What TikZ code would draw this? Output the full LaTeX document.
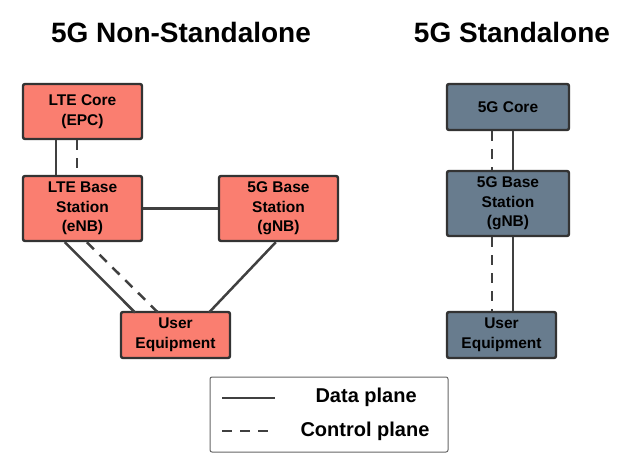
\documentclass[tikz,border=0pt]{standalone}
\usepackage{fontspec}
\setmainfont{Liberation Sans}
\begin{document}
\begin{tikzpicture}[x=1pt,y=-1pt,
 box/.style={draw=black!80,line width=2.4pt,rounded corners=2pt,align=center,font=\bfseries\fontsize{15.5}{19.5}\selectfont,inner sep=0pt},
 grey/.style={box,fill={rgb,255:red,104;green,124;blue,142}},
 ln/.style={draw=black!75,line width=2.5pt},
 dsh/.style={ln,dash pattern=on 10pt off 8pt}]
\useasboundingbox (0,0) rectangle (621,462);
\definecolor{salmon}{HTML}{FA7E70}
\node[font=\bfseries\fontsize{28}{32}\selectfont] (t1) at (181,32) {5G Non-Standalone};
\node[font=\bfseries\fontsize{28}{32}\selectfont] (t2) at (512,32) {5G Standalone};
\node[box,fill=salmon,minimum width=119pt,minimum height=55pt] (lc) at (82.5,111.5) {LTE Core\\(EPC)};
\node[box,fill=salmon,minimum width=119pt,minimum height=65pt] (lb) at (82.5,208.5) {LTE Base\\Station\\(eNB)};
\node[box,fill=salmon,minimum width=119pt,minimum height=65pt] (gb) at (278.5,208.5) {5G Base\\Station\\(gNB)};
\node[box,fill=salmon,minimum width=109pt,minimum height=46pt] (ue) at (175.5,335) {User\\Equipment};
\node[grey,minimum width=122pt,minimum height=46pt] (c5) at (508,107) {5G Core};
\node[grey,minimum width=122pt,minimum height=65pt] (g5) at (508,203.5) {5G Base\\Station\\(gNB)};
\node[grey,minimum width=109pt,minimum height=46pt] (u5) at (501.5,335) {User\\Equipment};
\path[ln] (lc.south west)++(34,0) coordinate(a1) -- (a1|-lb.north);
\path[dsh] (lc.south west)++(55,0) coordinate(a2) -- (a2|-lb.north);
\path[ln] (lb) -- (gb);
\path[ln] (lb.south west)++(43,0) coordinate(b1) -- (135,312.5);
\path[dsh] (lb.south west)++(65,0) coordinate(b2) -- (158,312.5);
\path[ln] (gb.south west)++(58,0) coordinate(b3) -- (209,312.5);
\path[dsh] (c5.south west)++(46,0) coordinate(c1) -- (c1|-g5.north);
\path[ln] (c5.south west)++(67,0) coordinate(c2) -- (c2|-g5.north);
\path[dsh] (g5.south west)++(46,0) coordinate(d1) -- (d1|-u5.north);
\path[ln] (g5.south west)++(67,0) coordinate(d2) -- (d2|-u5.north);
\node[draw=black!60,line width=1pt,rounded corners=2pt,minimum width=238pt,minimum height=75pt] (lg) at (329,414.5) {};
\coordinate (l1) at (222,398); \coordinate (l2) at (275,398);
\coordinate (l3) at (222,431); \coordinate (l4) at (275,431);
\path[ln] (l1) -- (l2);
\path[dsh] (l3) -- (l4);
\node[font=\bfseries\fontsize{20}{24}\selectfont,anchor=west] (d) at (312,397) {Data plane};
\node[font=\bfseries\fontsize{20}{24}\selectfont,anchor=west] (c) at (297,431) {Control plane};
\end{tikzpicture}
\end{document}
